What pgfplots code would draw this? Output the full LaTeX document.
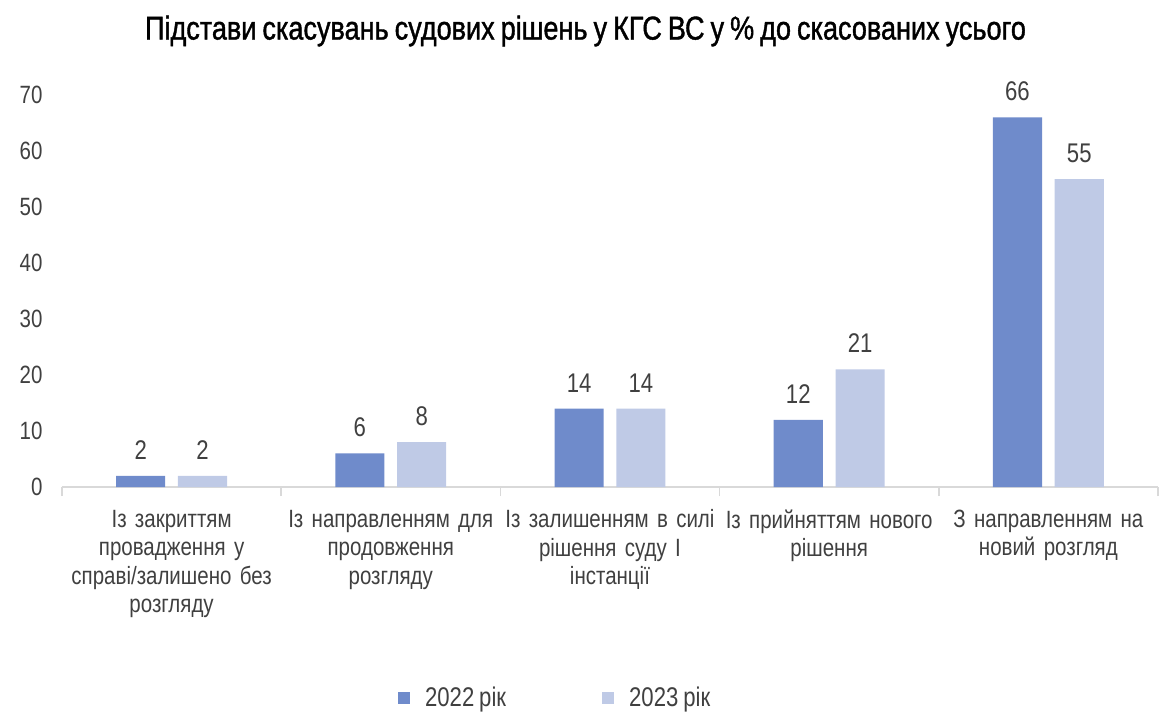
\documentclass[border=0pt]{standalone}
\usepackage{fontspec}
\setmainfont{Liberation Sans}[FakeStretch=0.82, WordSpace=0.8]
\newfontfamily\titlefont{Liberation Sans}[FakeStretch=0.82, FakeBold=1.2, WordSpace=0.8]
\usepackage{pgfplots}
\pgfplotsset{compat=1.18}
\definecolor{c22}{HTML}{6F8BCB}
\definecolor{c23}{HTML}{BFCAE6}
\definecolor{txt}{HTML}{404040}
\definecolor{axc}{HTML}{D9D9D9}
\begin{document}
\begin{tikzpicture}[x=1pt,y=1pt]
\useasboundingbox (0,0) rectangle (1160,713);
\node[font=\titlefont\fontsize{33}{38}\selectfont, text=black] at (585.5,682) {Підстави скасувань судових рішень у КГС ВС у \% до скасованих усього};
\begin{axis}[
 at={(62pt,226pt)}, anchor=south west,
 scale only axis, width=1096pt, height=392pt,
 xmin=-0.5, xmax=4.5, ymin=0, ymax=70,
 ybar, bar width=0.224,
 clip=false,
 axis x line*=bottom, axis y line*=left,
 y axis line style={draw=none},
 x axis line style={axc, line width=1.5pt, -},
 ytick={0,10,...,70}, ytick style={draw=none},
 xtick={0,...,4}, xtick style={draw=none},
 xticklabels={{Із закриттям\\провадження у\\справі/залишено без\\розгляду},
   {Із направленням для\\продовження\\розгляду},
   {Із залишенням в силі\\рішення суду І\\інстанції},
   {Із прийняттям нового\\рішення},
   {З направленням на\\новий розгляд}},
 xticklabel style={text width=218pt, align=center, font=\fontsize{25}{28.5}\selectfont, text=txt, yshift=-15pt},
 yticklabel style={font=\fontsize{25}{28}\selectfont, text=txt, xshift=-16pt},
 /pgf/number format/assume math mode=true,
 extra x ticks={-0.5,0.5,1.5,2.5,3.5,4.5}, extra x tick labels={},
 extra x tick style={xtick style={draw=axc, line width=1.5pt}, major tick length=9pt, tick align=outside},
 nodes near coords,
 every node near coord/.append style={font=\fontsize{27}{30}\selectfont, text=txt, yshift=13pt},
 legend style={at={(0.45,-0.538)}, anchor=center, draw=none, legend columns=2, font=\fontsize{27}{30}\selectfont, text=txt,
   /tikz/every odd column/.append style={column sep=13pt},
   /tikz/every even column/.append style={column sep=94pt}},
]
\addplot[fill=c22, draw=none, bar shift=-0.141, legend image code/.code={\fill[c22] (0pt,-6pt) rectangle (12pt,6pt);}]
  coordinates {(0,2) (1,6) (2,14) (3,12) (4,66)};
\addplot[fill=c23, draw=none, bar shift=0.141, legend image code/.code={\fill[c23] (0pt,-6pt) rectangle (12pt,6pt);}]
  coordinates {(0,2) (1,8) (2,14) (3,21) (4,55)};
\legend{2022 рік, 2023 рік}
\end{axis}
\end{tikzpicture}
\end{document}
